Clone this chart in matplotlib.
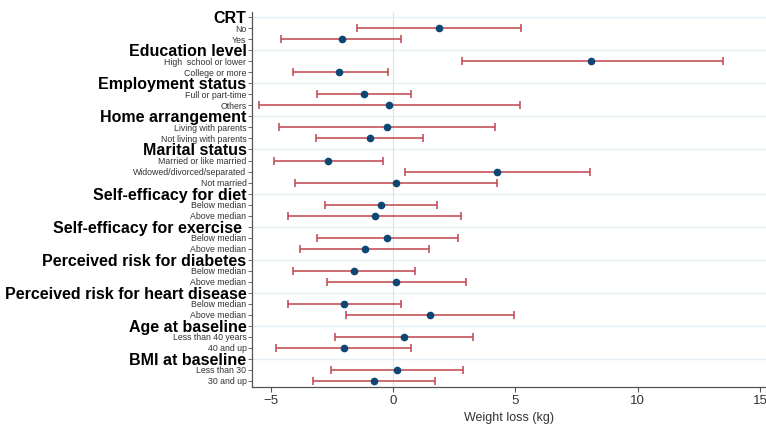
import numpy as np
import matplotlib
matplotlib.use('Agg')
import matplotlib.pyplot as plt

# rows from top to bottom: (label, is_header)
headers = ['CRT', 'Education level', 'Employment status', 'Home arrangement',
           'Marital status', 'Self-efficacy for diet', 'Self-efficacy for exercise ',
           'Perceived risk for diabetes', 'Perceived risk for heart disease',
           'Age at baseline', 'BMI at baseline']
groups = [
    ['No', 'Yes'],
    ['High  school or lower', 'College or more'],
    ['Full or part-time', 'Others'],
    ['Living with parents', 'Not living with parents'],
    ['Married or like married', 'Widowed/divorced/separated', 'Not married'],
    ['Below median', 'Above median'],
    ['Below median', 'Above median'],
    ['Below median', 'Above median'],
    ['Below median', 'Above median'],
    ['Less than 40 years', '40 and up'],
    ['Less than 30', '30 and up'],
]
est = [1.88, -2.10, 8.09, -2.21, -1.19, -0.16, -0.25, -0.95,
       -2.66, 4.25, 0.12, -0.49, -0.75, -0.23, -1.16, -1.61, 0.14,
       -2.00, 1.50, 0.44, -2.02, 0.18, -0.78]
lo = [-1.46, -4.59, 2.80, -4.09, -3.11, -5.48, -4.66, -3.16,
      -4.85, 0.51, -4.02, -2.77, -4.28, -3.11, -3.79, -4.09, -2.71,
      -4.28, -1.91, -2.37, -4.76, -2.54, -3.28]
hi = [5.21, 0.34, 13.48, -0.22, 0.74, 5.17, 4.16, 1.23,
      -0.41, 8.03, 4.24, 1.79, 2.78, 2.66, 1.49, 0.91, 3.00,
      0.31, 4.96, 3.26, 0.75, 2.86, 1.71]

labels, is_head = [], []
for h, g in zip(headers, groups):
    labels.append(h); is_head.append(True)
    for item in g:
        labels.append(item); is_head.append(False)
ypos = np.arange(len(labels))
item_y = ypos[~np.array(is_head)]
head_y = ypos[np.array(is_head)]

fams = ['Liberation Sans', 'DejaVu Sans']
plt.rcParams['font.family'] = fams

fig = plt.figure(figsize=(7.66, 4.25), dpi=100)
ax = fig.add_axes([0.329, 0.0894, 0.671, 0.883])

for y in head_y:
    ax.axhline(y, color='#e3eef5', lw=1.0, zorder=0)
ax.axvline(0, color='#e4e4e4', lw=0.9, zorder=0)

est = np.array(est); lo = np.array(lo); hi = np.array(hi)
ax.errorbar(est, item_y, xerr=[est - lo, hi - est], fmt='none',
            ecolor='#c0434b', elinewidth=1.1, capsize=3, capthick=1.1, zorder=2)
ax.plot(est, item_y, 'o', color='#0d4673', ms=4.5, zorder=3)

ax.set_ylim(len(labels) - 0.45, -0.5)
ax.set_xlim(-5.76, 15.24)
ax.set_yticks(ypos)
ax.set_yticklabels(labels, family=fams)
for t, h in zip(ax.get_yticklabels(), is_head):
    if h:
        t.set_fontsize(11.5)
        t.set_fontweight('bold')
        t.set_color('black')
    else:
        t.set_fontsize(6.3)
        t.set_color('#333333')
ax.set_xticks([-5, 0, 5, 10, 15])
ax.set_xticklabels(['\u22125', '0', '5', '10', '15'], fontsize=9.5,
                   family=fams, color='#333333')
ax.tick_params(axis='y', length=3, width=0.6, color='#555555', pad=1)
ax.tick_params(axis='x', length=3.5, width=0.8, color='#555555', pad=2)
ax.set_xlabel('Weight loss (kg)', fontsize=9, color='#333333',
              family=fams, labelpad=4)
for s in ['top', 'right']:
    ax.spines[s].set_visible(False)
for s in ['left', 'bottom']:
    ax.spines[s].set_color('#555555')
    ax.spines[s].set_linewidth(0.9)

fig.savefig('out.png', dpi=100)
